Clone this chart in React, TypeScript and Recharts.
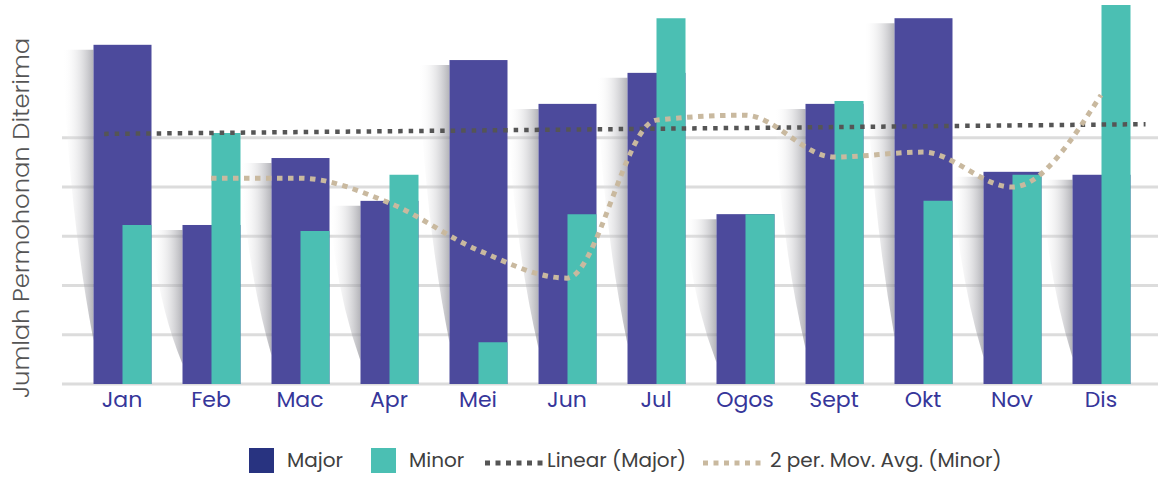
import React from 'react'
import { ComposedChart, Bar, Line, XAxis, YAxis, CartesianGrid } from 'recharts'

const MONTHS = ['Jan', 'Feb', 'Mac', 'Apr', 'Mei', 'Jun', 'Jul', 'Ogos', 'Sept', 'Okt', 'Nov', 'Dis']
const MAJOR = [68.9, 32.3, 45.9, 37.2, 65.8, 56.9, 63.2, 34.5, 56.9, 74.3, 43.1, 42.5]
const MINOR = [32.3, 51.0, 31.1, 42.5, 8.5, 34.5, 74.3, 34.5, 57.5, 37.2, 42.5, 77.0]
// 2 per. moving average of Minor
const MOV_AVG = [null, 41.8, 41.8, 36.8, 27.2, 21.5, 53.6, 54.6, 46.1, 47.1, 40.0, 58.7]
// linear trend of Major: start / end as drawn (x in month index units)
const TREND_X = [-0.2, 11.64]
const TREND_Y = [50.8, 52.8]
const GRID_TICKS = [0, 10, 20, 30, 40, 50]

const data = MONTHS.map((month, i) => ({ month, major: MAJOR[i], minor: MINOR[i], ma: MOV_AVG[i] }))
const trend = TREND_X.map((t, i) => ({ t, linear: TREND_Y[i] }))

const C_MAJOR = '#4c4a9c'
const C_MAJOR_KEY = '#283380'
const C_MINOR = '#4bbfb3'
const C_TREND = '#555555'
const C_AVG = '#c9b99f'
const FONT = "Poppins, 'Open Sans', 'DejaVu Sans', sans-serif"
const PAD = { left: 15.5, right: 12.5 }

// major bar with the soft grey "cone" shadow on its left
const MajorShape = (props: any) => {
  const { x, y, width, height, fill } = props
  if (!height) return null
  const bottom = y + height
  const top = y + 5
  const sx = x - 31
  const len = (bottom - top) * 0.87
  const meet = top + len
  const d = `M${sx},${top} L${x},${top} L${x},${meet} Q${sx + 6},${top + len * 0.55} ${sx},${top} Z`
  return (
    <g>
      <path d={d} fill="url(#coneShade)" />
      <rect x={x} y={y} width={width} height={height} fill={fill} />
    </g>
  )
}

const MonthTick = ({ x, y, payload }: any) => (
  <text x={x} y={y + 23} textAnchor="middle" fill="#36369a" fontSize={22} fontFamily={FONT}>
    {payload.value}
  </text>
)

const NoTick = () => <g />

const Dots = ({ color }: { color: string }) => (
  <svg width={60} height={10} style={{ display: 'block' }}>
    <line x1={0} y1={5} x2={60} y2={5} stroke={color} strokeWidth={5} strokeDasharray="5 5.5" />
  </svg>
)

const legendText: React.CSSProperties = {
  position: 'absolute', top: 448, height: 25, lineHeight: '25px', fontSize: 20, color: '#404040', fontFamily: FONT,
}

export default function App() {
  return (
    <div style={{ position: 'absolute', left: 0, top: 0, width: 1158, height: 477, background: '#fff', fontFamily: FONT }}>
      <ComposedChart
        width={1158}
        height={477}
        data={data}
        margin={{ top: 0, right: 0, bottom: 63, left: 0 }}
        barGap={-29}
      >
        <defs>
          <linearGradient id="coneShade" x1="0" y1="0" x2="1" y2="0">
            <stop offset="0" stopColor="#ffffff" stopOpacity={0} />
            <stop offset="0.55" stopColor="#c4c4c8" stopOpacity={0.38} />
            <stop offset="1" stopColor="#8a8a92" stopOpacity={0.65} />
          </linearGradient>
        </defs>
        <CartesianGrid vertical={false} horizontalValues={GRID_TICKS} stroke="#dcdcdc" strokeWidth={3} />
        <XAxis
          dataKey="month"
          tickLine={false}
          axisLine={false}
          tickSize={0}
          tickMargin={0}
          tick={MonthTick}
          interval={0}
          padding={PAD}
          height={30}
        />
        <XAxis
          xAxisId="t"
          type="number"
          dataKey="t"
          domain={[-0.5, 11.5]}
          allowDataOverflow
          padding={PAD}
          hide
        />
        <YAxis
          width={62}
          domain={[0, 78]}
          ticks={GRID_TICKS}
          allowDataOverflow
          tick={NoTick}
          tickLine={false}
          axisLine={false}
        />
        <Bar dataKey="major" name="Major" fill={C_MAJOR} barSize={58} shape={MajorShape} isAnimationActive={false} />
        <Bar dataKey="minor" name="Minor" fill={C_MINOR} barSize={29} isAnimationActive={false} />
        <Line
          xAxisId="t"
          data={trend}
          dataKey="linear"
          name="Linear (Major)"
          stroke={C_TREND}
          strokeWidth={4.5}
          strokeDasharray="4.5 6"
          dot={false}
          activeDot={false}
          isAnimationActive={false}
        />
        <Line
          type="monotone"
          dataKey="ma"
          name="2 per. Mov. Avg. (Minor)"
          stroke={C_AVG}
          strokeWidth={5}
          strokeDasharray="5.5 5.5"
          dot={false}
          activeDot={false}
          isAnimationActive={false}
        />
        <text
          x={29}
          y={218}
          transform="rotate(-90 29 218)"
          textAnchor="middle"
          fontSize={24}
          fontWeight={300}
          fill="#555"
          fontFamily={FONT}
          textLength={360}
          lengthAdjust="spacingAndGlyphs"
        >
          Jumlah Permohonan Diterima
        </text>
      </ComposedChart>

      <div style={{ position: 'absolute', left: 249, top: 448, width: 25, height: 25, background: C_MAJOR_KEY }} />
      <div style={{ ...legendText, left: 287 }}>Major</div>
      <div style={{ position: 'absolute', left: 371, top: 448, width: 25, height: 25, background: C_MINOR }} />
      <div style={{ ...legendText, left: 409 }}>Minor</div>
      <div style={{ position: 'absolute', left: 485, top: 458 }}><Dots color={C_TREND} /></div>
      <div style={{ ...legendText, left: 547 }}>Linear (Major)</div>
      <div style={{ position: 'absolute', left: 703, top: 458 }}><Dots color={C_AVG} /></div>
      <div style={{ ...legendText, left: 770 }}>2 per. Mov. Avg. (Minor)</div>
    </div>
  )
}
